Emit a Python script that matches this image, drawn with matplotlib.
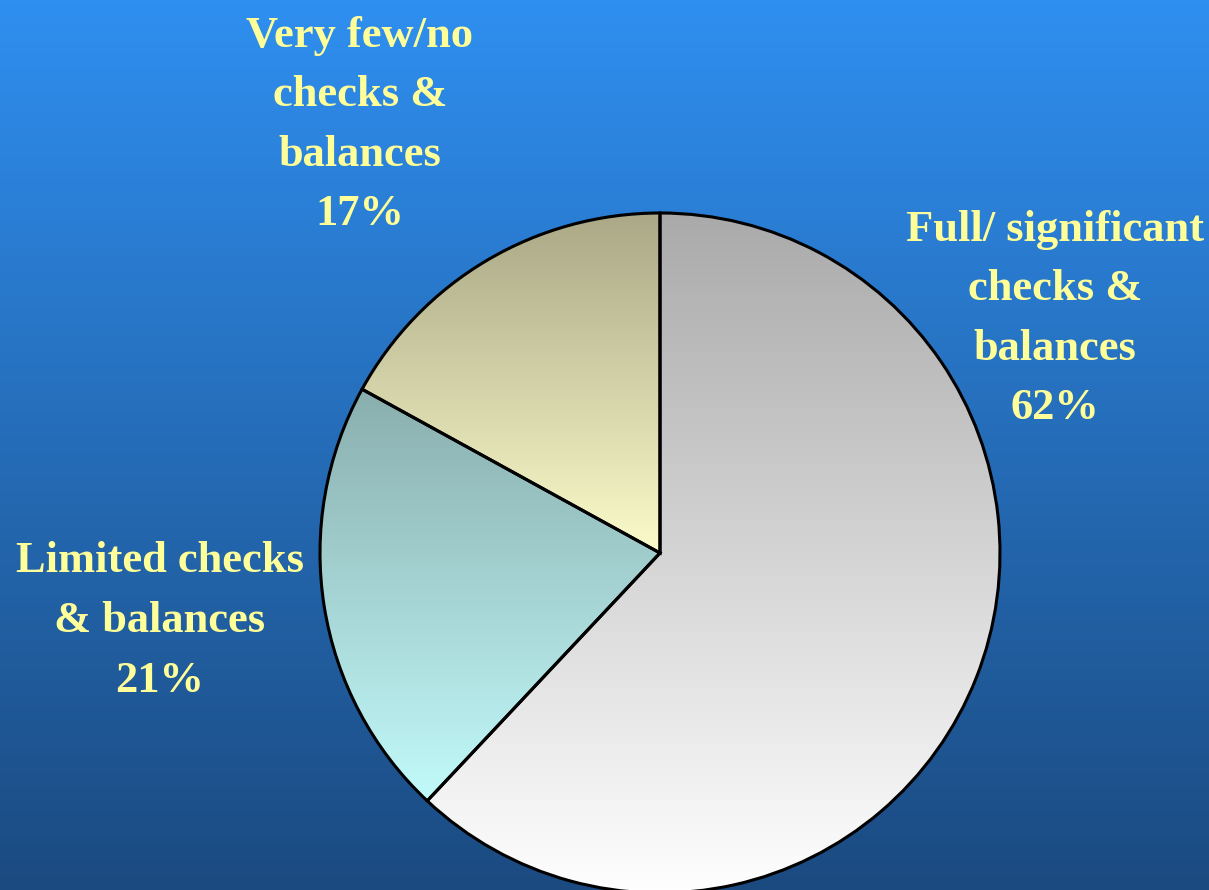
import numpy as np
import matplotlib
matplotlib.use("Agg")
import matplotlib.pyplot as plt
from matplotlib.colors import LinearSegmentedColormap

# shares of countries by level of checks & balances
categories = ["Full/ significant\nchecks &\nbalances",
              "Limited checks\n& balances",
              "Very few/no\nchecks &\nbalances"]
shares = [62, 21, 17]

# top -> bottom shading of each slice
slice_grads = [("#aaaaaa", "#ffffff"),
               ("#8aaeae", "#c2fafa"),
               ("#aaa886", "#fbfbca")]
label_pos = [(1055, 571), (160, 269), (360, 765)]

W, H = 1209, 890
fig = plt.figure(figsize=(W / 100, H / 100), dpi=100)
ax = fig.add_axes([0, 0, 1, 1])

# background: vertical blue gradient
bg = LinearSegmentedColormap.from_list("bg", ["#1b4a80", "#2f8ff0"])
ax.imshow(np.linspace(0, 1, 256).reshape(-1, 1), cmap=bg, origin="lower",
          extent=(0, W, 0, H), aspect="auto", zorder=0)

wedges, _ = ax.pie(shares, startangle=90, counterclock=False,
                   center=(660, 337), radius=340, frame=True,
                   wedgeprops=dict(edgecolor="black", linewidth=2.2,
                                   facecolor="none", zorder=3))

for w, (c_top, c_bot) in zip(wedges, slice_grads):
    verts = w.get_path().vertices
    y0, y1 = verts[:, 1].min(), verts[:, 1].max()
    x0, x1 = verts[:, 0].min(), verts[:, 0].max()
    cm = LinearSegmentedColormap.from_list("g", [c_bot, c_top])
    im = ax.imshow(np.linspace(0, 1, 256).reshape(-1, 1), cmap=cm,
                   origin="lower", extent=(x0, x1, y0, y1),
                   aspect="auto", zorder=2)
    im.set_clip_path(w)

for name, pct, (x, y) in zip(categories, shares, label_pos):
    ax.text(x, y, f"{name}\n{pct}%", ha="center", va="center",
            multialignment="center", color="#ffff99", fontsize=32,
            fontweight="bold", family="Liberation Serif", linespacing=1.63,
            zorder=4)

ax.set_xlim(0, W)
ax.set_ylim(0, H)
ax.set_aspect("auto")
ax.axis("off")

fig.savefig("out.png", dpi=100)
